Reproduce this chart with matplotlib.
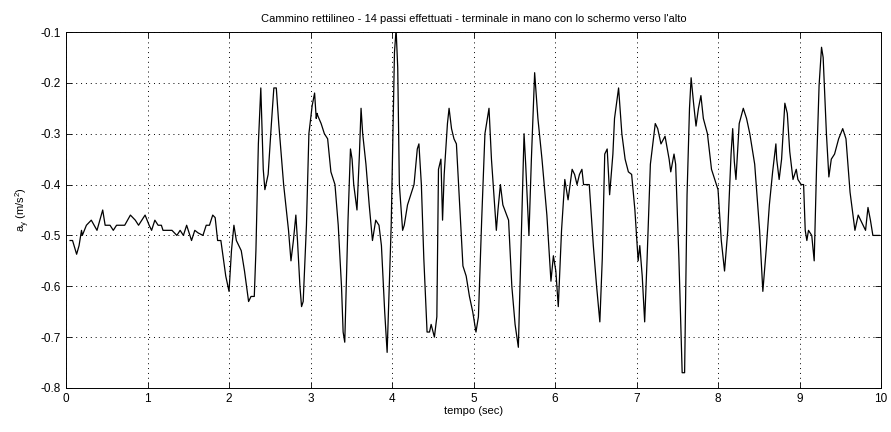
import matplotlib
matplotlib.use('Agg')
import matplotlib.pyplot as plt
import numpy as np

plt.rcParams['font.family'] = ['Liberation Sans', 'DejaVu Sans']
plt.rcParams['font.size'] = 8

# tempo (sec) e accelerazione a_y (m/s^2)
tempo = [0.05, 0.08, 0.13, 0.16, 0.19, 0.20, 0.25, 0.31, 0.38, 0.45, 0.48, 0.54, 0.58, 0.62,
         0.72, 0.79, 0.85, 0.89, 0.93, 0.97, 1.02, 1.05,
         1.09, 1.13, 1.17, 1.19, 1.30, 1.36, 1.40, 1.44, 1.48, 1.54, 1.58, 1.62, 1.68, 1.72,
         1.76, 1.80, 1.83, 1.86, 1.90, 1.96, 2.00,
         2.03, 2.06, 2.09, 2.15, 2.19, 2.24, 2.27, 2.31, 2.33, 2.36, 2.39, 2.42, 2.44, 2.48,
         2.52, 2.55, 2.58, 2.61, 2.67, 2.73, 2.76, 2.79, 2.82, 2.84, 2.87, 2.89, 2.91, 2.95, 2.98,
         3.02, 3.05, 3.07, 3.08, 3.09, 3.13, 3.17, 3.21, 3.25, 3.29, 3.30, 3.34, 3.38, 3.40,
         3.42, 3.46, 3.49, 3.51, 3.53, 3.57, 3.60, 3.62, 3.64, 3.68, 3.72, 3.76, 3.80, 3.84,
         3.87, 3.91, 3.94,
         3.99, 4.03, 4.05, 4.07, 4.09, 4.13, 4.15, 4.19, 4.23, 4.27, 4.31, 4.33, 4.36, 4.39,
         4.43, 4.46, 4.48, 4.52, 4.55, 4.57, 4.60, 4.62, 4.64, 4.68, 4.70, 4.73, 4.76, 4.79,
         4.83, 4.87, 4.91, 4.95, 4.99,
         5.03, 5.06, 5.10, 5.14, 5.19, 5.22, 5.28, 5.30, 5.33, 5.36, 5.43, 5.47, 5.51, 5.55,
         5.59, 5.62, 5.64, 5.68, 5.71, 5.75, 5.79, 5.84, 5.90, 5.95, 5.98, 6.01,
         6.04, 6.08, 6.12, 6.16, 6.21, 6.24, 6.27, 6.30, 6.33, 6.35, 6.42, 6.47, 6.51, 6.55,
         6.58, 6.61, 6.64, 6.67, 6.71, 6.73, 6.78, 6.82, 6.86, 6.90, 6.94,
         6.98, 7.02, 7.04, 7.07, 7.10, 7.13, 7.17, 7.23, 7.26, 7.30, 7.35, 7.40, 7.42, 7.46,
         7.48, 7.52, 7.56, 7.59, 7.62, 7.65, 7.67, 7.70, 7.73, 7.76, 7.79, 7.82, 7.87, 7.92,
         7.96, 8.00,
         8.04, 8.08, 8.12, 8.16, 8.18, 8.20, 8.22, 8.26, 8.31, 8.35, 8.39, 8.45, 8.51, 8.55,
         8.59, 8.63, 8.67, 8.71, 8.72, 8.75, 8.78, 8.82, 8.85, 8.88, 8.92, 8.96, 8.98,
         9.02, 9.05, 9.07, 9.09, 9.11, 9.13, 9.15, 9.18, 9.21, 9.24, 9.27, 9.29, 9.33, 9.36,
         9.39, 9.43, 9.48, 9.53, 9.57, 9.62, 9.68, 9.72, 9.75, 9.81, 9.84, 9.87, 9.90, 9.98]

ay = [-0.51, -0.51, -0.537, -0.52, -0.49, -0.50, -0.48, -0.47, -0.49, -0.45, -0.48, -0.48, -0.49, -0.48,
      -0.48, -0.46, -0.47, -0.48, -0.47, -0.46, -0.48, -0.49,
      -0.47, -0.48, -0.48, -0.49, -0.49, -0.50, -0.49, -0.50, -0.48, -0.51, -0.49, -0.495, -0.50, -0.48,
      -0.48, -0.46, -0.465, -0.51, -0.51, -0.58, -0.61,
      -0.53, -0.48, -0.51, -0.53, -0.57, -0.63, -0.62, -0.62, -0.53, -0.32, -0.21, -0.37, -0.41, -0.38,
      -0.28, -0.21, -0.21, -0.28, -0.40, -0.49, -0.55, -0.51, -0.46, -0.51, -0.60, -0.64, -0.63, -0.48, -0.30,
      -0.245, -0.22, -0.27, -0.26, -0.265, -0.28, -0.30, -0.31, -0.375, -0.395, -0.40, -0.48, -0.60, -0.69,
      -0.71, -0.47, -0.33, -0.35, -0.40, -0.45, -0.34, -0.25, -0.30, -0.36, -0.44, -0.51, -0.47, -0.48,
      -0.52, -0.65, -0.73,
      -0.48, -0.14, -0.095, -0.17, -0.40, -0.49, -0.48, -0.44, -0.42, -0.40, -0.33, -0.32, -0.40, -0.545,
      -0.69, -0.69, -0.675, -0.70, -0.66, -0.37, -0.35, -0.47, -0.38, -0.28, -0.25, -0.29, -0.31, -0.32,
      -0.44, -0.56, -0.58, -0.62, -0.65,
      -0.69, -0.66, -0.47, -0.30, -0.25, -0.35, -0.49, -0.45, -0.40, -0.44, -0.47, -0.60, -0.675, -0.72,
      -0.48, -0.30, -0.36, -0.50, -0.35, -0.18, -0.27, -0.35, -0.46, -0.59, -0.54, -0.57,
      -0.64, -0.49, -0.39, -0.43, -0.37, -0.38, -0.40, -0.38, -0.37, -0.40, -0.40, -0.52, -0.60, -0.67,
      -0.545, -0.34, -0.33, -0.42, -0.34, -0.27, -0.21, -0.30, -0.35, -0.375, -0.38,
      -0.45, -0.55, -0.52, -0.58, -0.67, -0.545, -0.36, -0.28, -0.29, -0.32, -0.305, -0.35, -0.375, -0.34,
      -0.36, -0.545, -0.77, -0.77, -0.42, -0.25, -0.19, -0.24, -0.285, -0.25, -0.225, -0.27, -0.30, -0.37,
      -0.39, -0.41,
      -0.51, -0.57, -0.49, -0.34, -0.29, -0.355, -0.39, -0.28, -0.25, -0.27, -0.30, -0.36, -0.49, -0.61,
      -0.53, -0.44, -0.375, -0.32, -0.35, -0.39, -0.35, -0.24, -0.26, -0.335, -0.39, -0.37, -0.39,
      -0.40, -0.40, -0.49, -0.51, -0.49, -0.495, -0.50, -0.55, -0.36, -0.205, -0.13, -0.15, -0.30, -0.385,
      -0.35, -0.34, -0.31, -0.29, -0.31, -0.415, -0.49, -0.46, -0.47, -0.49, -0.445, -0.47, -0.50, -0.50]

fig = plt.figure(figsize=(8.91, 4.32), dpi=100)
ax = fig.add_axes([0.0741, 0.1019, 0.9147, 0.824])
ax.plot(tempo, ay, color='black', linewidth=0.9)

ax.set_xlim(0, 10)
ax.set_ylim(-0.8, -0.1)
ax.set_xticks(np.arange(0, 11, 1))
ax.set_yticks(np.arange(-0.8, -0.05, 0.1))
ax.set_yticklabels(['-0.8', '-0.7', '-0.6', '-0.5', '-0.4', '-0.3', '-0.2', '-0.1'])
ax.tick_params(direction='in', top=True, right=True, length=4, width=0.6, labelsize=8.5)
# griglia puntinata stile MATLAB
ax.grid(True, linestyle=(0, (1, 4)), color='black', linewidth=0.7)
for s in ax.spines.values():
    s.set_linewidth(0.7)

ax.set_xlabel('tempo (sec)', fontsize=8, labelpad=1)
ax.set_ylabel(r'a$_\mathregular{y}$ (m/s$^\mathregular{2}$)', fontsize=8, labelpad=6)
ax.set_title("Cammino rettilineo - 14 passi effettuati - terminale in mano con lo schermo verso l'alto",
             fontsize=8, pad=7)

fig.savefig('out.png', dpi=100)
